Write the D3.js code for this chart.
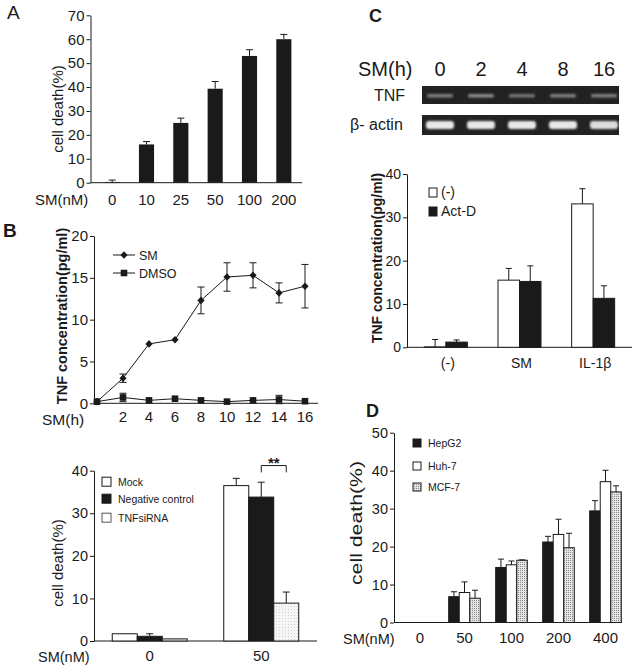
<!DOCTYPE html>
<html><head><meta charset="utf-8">
<script src="https://cdn.jsdelivr.net/npm/d3@7"></script>
<style>
body{margin:0;background:#fff}
svg{display:block;font-family:"Liberation Sans",Arial,Helvetica,sans-serif}
</style></head><body>
<svg id="fig" width="636" height="668"></svg>
<script>
// ---------- DATA ----------
// Panel A
const aCategories = ["0","10","25","50","100","200"];
const aValues = [0.3,16,25,39.3,53,60];
const aErrors = [0.8,1.2,2,3,2.6,2];
const aTicks = [0,10,20,30,40,50,60,70];

// Panel B (line)
const bHours = [0,2,4,6,8,10,12,14,16];
const bHourTicks = [2,4,6,8,10,12,14,16];
const bSM = [0.2,3.0,7.1,7.6,12.3,15.1,15.3,13.2,14.0];
const bSMErr = [0.1,0.5,0.15,0.1,1.6,1.7,1.5,1.2,2.6];
const bDMSO = [0.2,0.7,0.35,0.55,0.35,0.2,0.35,0.45,0.25];
const bDMSOErr = [0.1,0.5,0.1,0.1,0.1,0.1,0.1,0.5,0.1];
const bLineTicks = [0,5,10,15,20];

// Panel B (bars)
const bbDoses = ["0","50"];
const bbSeries = ["Mock","Negative control","TNFsiRNA"];
const bbMock = [1.7,36.5];
const bbMockErr = [0,1.7];
const bbNeg = [1.1,33.8];
const bbNegErr = [0.6,3.5];
const bbSi = [0.5,8.9];
const bbSiErr = [0,2.6];
const bbTicks = [0,10,20,30,40];

// Panel C (gel)
const cLanes = ["0","2","4","8","16"];
const cTNFBand = [0.45,0.5,0.4,0.45,0.45];
const cActinBand = [0.95,0.95,0.95,0.95,0.9];

// Panel C (bars)
const cGroups = ["(-)","SM","IL-1β"];
const cSeries = ["(-)","Act-D"];
const cNone = [0.1,15.5,33.1];
const cNoneErr = [1.7,2.7,3.5];
const cActD = [1.2,15.2,11.3];
const cActDErr = [0.5,3.6,2.9];
const cTicks = [0,10,20,30,40];

// Panel D
const dDoses = ["0","50","100","200","400"];
const dSeries = ["HepG2","Huh-7","MCF-7"];
const dHepG2 = [0,6.8,14.5,21.2,29.4];
const dHepG2Err = [0,1.3,2.2,1.5,2.7];
const dHuh7 = [0,7.9,15.2,23.2,37.1];
const dHuh7Err = [0,2.8,1.0,4.0,3.0];
const dMCF7 = [0,6.4,16.4,19.7,34.4];
const dMCF7Err = [0,2.1,0.1,3.8,1.6];
const dTicks = [0,10,20,30,40,50];

// ---------- DRAW ----------
const svg = d3.select("#fig");
const INK = "#1a1a1a";
const defs = svg.append("defs");
const pat = defs.append("pattern").attr("id","stipple").attr("width",2).attr("height",2).attr("patternUnits","userSpaceOnUse");
pat.append("rect").attr("width",2).attr("height",2).attr("fill","#e4e4e4");
pat.append("rect").attr("width",1).attr("height",1).attr("fill","#8a8a8a");
const pat2 = defs.append("pattern").attr("id","stipple2").attr("width",3).attr("height",3).attr("patternUnits","userSpaceOnUse");
pat2.append("rect").attr("width",3).attr("height",3).attr("fill","#f6f6f6");
pat2.append("rect").attr("width",1).attr("height",1).attr("fill","#d0d0d0");
const blur = defs.append("filter").attr("id","blur").attr("x","-20%").attr("y","-50%").attr("width","140%").attr("height","200%");
blur.append("feGaussianBlur").attr("stdDeviation",1.2);

function yAxis(scale, x, ticks, fs){
  const g = svg.append("g").attr("transform",`translate(${x},0)`)
    .call(d3.axisLeft(scale).tickValues(ticks).tickSize(4).tickSizeOuter(0).tickPadding(2));
  g.attr("font-family",null).attr("font-size",fs);
  g.selectAll("text").attr("fill",INK);
  g.selectAll("line,path").attr("stroke",INK);
  return g;
}
function hLine(x1,x2,y){
  svg.append("line").attr("x1",x1).attr("x2",x2).attr("y1",y).attr("y2",y).attr("stroke",INK).attr("stroke-width",1);
}
function text(t,x,y,fs,opts={}){
  const e = svg.append("text").attr("x",x).attr("y",y).attr("font-size",fs).attr("fill",INK).text(t);
  if(opts.anchor) e.attr("text-anchor",opts.anchor);
  if(opts.bold) e.attr("font-weight","bold");
  return e;
}
function vLabel(t,x,y,fs,bold,len){
  const e = svg.append("text").attr("transform",`translate(${x},${y}) rotate(-90)`)
    .attr("text-anchor","middle").attr("font-size",fs).attr("fill",INK).text(t);
  if(bold) e.attr("font-weight","bold");
  if(len) e.attr("textLength",len).attr("lengthAdjust","spacingAndGlyphs");
}
function errUp(x,yTop,yErr,cap){
  svg.append("line").attr("x1",x).attr("x2",x).attr("y1",yTop).attr("y2",yErr).attr("stroke",INK);
  svg.append("line").attr("x1",x-cap/2).attr("x2",x+cap/2).attr("y1",yErr).attr("y2",yErr).attr("stroke",INK);
}

// ===== Panel A =====
{
  const y = d3.scaleLinear().domain([0,70]).range([182.7,15.3]);
  const x = d3.scaleBand().domain(aCategories).range([95,301]).paddingInner(0.56).paddingOuter(0.28);
  yAxis(y, 90.5, aTicks, 15);
  hLine(90.5, 302, y(0));
  aCategories.forEach((c,i)=>{
    const bx = x(c), w = x.bandwidth();
    svg.append("rect").attr("x",bx).attr("y",y(aValues[i])).attr("width",w).attr("height",y(0)-y(aValues[i])).attr("fill",INK);
    errUp(bx+w/2, y(aValues[i]), y(aValues[i]+aErrors[i]), 7);
    text(c, bx+w/2, 205, 15, {anchor:"middle"});
  });
  text("SM(nM)", 35, 205, 15);
  vLabel("cell death(%)", 63, 109, 15);
  text("A", 7, 19, 19);
}

// ===== Panel B line =====
{
  const y = d3.scaleLinear().domain([0,20]).range([403.3,236]);
  const x = d3.scaleLinear().domain([0,16]).range([97,305]);
  yAxis(y, 94, bLineTicks, 15);
  hLine(94, 318, y(0));
  bHourTicks.forEach(h=> text(h, x(h), 422, 15, {anchor:"middle"}));
  text("SM(h)", 42, 425, 15.5);
  vLabel("TNF concentration(pg/ml)", 67, 316, 14.5, true);
  text("B", 3, 237, 19, {bold:true});
  const diamond = "M0,-3.8L3.6,0L0,3.8L-3.6,0Z";
  const square = "M-3.3,-3.3H3.3V3.3H-3.3Z";
  const line = d3.line().x((d,i)=>x(bHours[i])).y(d=>y(d));
  [[bSM,bSMErr,diamond],[bDMSO,bDMSOErr,square]].forEach(([vals,errs,shape])=>{
    svg.append("path").attr("d",line(vals)).attr("fill","none").attr("stroke",INK).attr("stroke-width",1);
    vals.forEach((v,i)=>{
      const cx = x(bHours[i]);
      if(errs[i]>0.15){
        svg.append("line").attr("x1",cx).attr("x2",cx).attr("y1",y(v-errs[i])).attr("y2",y(v+errs[i])).attr("stroke",INK);
        [v-errs[i],v+errs[i]].forEach(e=>svg.append("line").attr("x1",cx-3.5).attr("x2",cx+3.5).attr("y1",y(e)).attr("y2",y(e)).attr("stroke",INK));
      }
      svg.append("path").attr("d",shape).attr("transform",`translate(${cx},${y(v)})`).attr("fill",INK);
    });
  });
  // legend
  [["SM",diamond,255],["DMSO",square,273]].forEach(([t,shape,ly])=>{
    hLine(113,135,ly);
    svg.append("path").attr("d",shape).attr("transform",`translate(124,${ly})`).attr("fill",INK);
    text(t,139,ly+4.5,12.5);
  });
}

// ===== Panel B bars =====
{
  const y = d3.scaleLinear().domain([0,40]).range([641,470.7]);
  const x = d3.scaleBand().domain(bbDoses).range([94,317]);
  const xs = d3.scaleBand().domain(bbSeries).range([-37.5,37.5]);
  yAxis(y, 94, bbTicks, 14.5);
  hLine(94, 317, y(0));
  const series = [[bbMock,bbMockErr,"#fff"],[bbNeg,bbNegErr,INK],[bbSi,bbSiErr,"url(#stipple2)"]];
  bbDoses.forEach((d,i)=>{
    const c = x(d)+x.bandwidth()/2;
    series.forEach(([vals,errs,fill],k)=>{
      const bx = c + xs(bbSeries[k]);
      svg.append("rect").attr("x",bx).attr("y",y(vals[i])).attr("width",xs.bandwidth()).attr("height",y(0)-y(vals[i]))
        .attr("fill",fill).attr("stroke",INK).attr("stroke-width",1);
      if(errs[i]>0) errUp(bx+xs.bandwidth()/2, y(vals[i]), y(vals[i]+errs[i]), 7);
    });
    text(d, c, 661, 15, {anchor:"middle"});
  });
  // significance bracket
  const c50 = x("50")+x.bandwidth()/2;
  const xa = c50 + xs("Negative control") + xs.bandwidth()/2;
  const xb = c50 + xs("TNFsiRNA") + xs.bandwidth()/2;
  svg.append("path").attr("d",`M${xa},${y(39.6)}V${y(41.2)}H${xb}V${y(39.6)}`).attr("fill","none").attr("stroke",INK);
  text("**", (xa+xb)/2, 468, 15, {anchor:"middle", bold:true});
  text("SM(nM)", 38, 662, 14.5);
  vLabel("cell death(%)", 63, 563, 15);
  // legend
  const lfills = ["#fff",INK,"#fff"];
  bbSeries.forEach((s,k)=>{
    const ly = [481.7,498.7,517.7][k];
    svg.append("rect").attr("x",102).attr("y",ly-4.5).attr("width",9).attr("height",9).attr("fill",lfills[k]).attr("stroke",k===2?"#555":INK);
    text(s,118,ly+4,10.5);
  });
}

// ===== Panel C gel =====
{
  text("C", 369, 22, 18, {bold:true});
  const lx = d3.scalePoint().domain(cLanes).range([440,604]);
  text("SM(h)", 358, 76, 20);
  cLanes.forEach(l=> text(l, lx(l), 76, 20, {anchor:"middle"}));
  text("TNF", 374, 101, 16);
  text("β- actin", 350, 130, 16);
  svg.append("rect").attr("x",422).attr("y",86).attr("width",197).attr("height",18).attr("fill","#222");
  svg.append("rect").attr("x",422).attr("y",115).attr("width",197).attr("height",20).attr("fill","#222");
  const grey = d3.scaleLinear().domain([0,1]).range(["#222","#f2f2f2"]);
  cLanes.forEach((l,i)=>{
    svg.append("rect").attr("x",lx(l)-13).attr("y",94).attr("width",26).attr("height",3.5).attr("rx",1.5)
      .attr("fill",grey(cTNFBand[i])).attr("filter","url(#blur)");
    svg.append("rect").attr("x",lx(l)-14).attr("y",121).attr("width",28).attr("height",8).attr("rx",3)
      .attr("fill",grey(cActinBand[i])).attr("filter","url(#blur)");
  });
}

// ===== Panel C bars =====
{
  const y = d3.scaleLinear().domain([0,40]).range([347.3,174]);
  const x = d3.scaleBand().domain(cGroups).range([409,630]);
  const xs = d3.scaleBand().domain(cSeries).range([-21.5,21.5]);
  yAxis(y, 407, cTicks, 14);
  hLine(407, 632, y(0));
  const series = [[cNone,cNoneErr,"#fff"],[cActD,cActDErr,INK]];
  cGroups.forEach((g,i)=>{
    const c = x(g)+x.bandwidth()/2;
    series.forEach(([vals,errs,fill],k)=>{
      const bx = c + xs(cSeries[k]);
      svg.append("rect").attr("x",bx).attr("y",y(vals[i])).attr("width",xs.bandwidth()).attr("height",y(0)-y(vals[i]))
        .attr("fill",fill).attr("stroke",INK);
      errUp(bx+xs.bandwidth()/2, y(vals[i]), y(vals[i]+errs[i]), 6);
    });
    text(g, c+2, 368, 14, {anchor:"middle"});
  });
  vLabel("TNF concentration(pg/ml)", 382, 258, 14, true);
  [["(-)","#fff",192],["Act-D",INK,211]].forEach(([t,f,ly])=>{
    svg.append("rect").attr("x",429).attr("y",ly-4).attr("width",8).attr("height",9).attr("fill",f).attr("stroke",INK);
    text(t,441,ly+5,14);
  });
}

// ===== Panel D =====
{
  text("D", 366, 417, 18, {bold:true});
  const y = d3.scaleLinear().domain([0,50]).range([622.5,432.7]);
  const x = d3.scaleBand().domain(dDoses).range([394,629]);
  const xs = d3.scaleBand().domain(dSeries).range([-15.8,15.8]);
  yAxis(y, 394, dTicks, 14.5);
  hLine(394, 622, y(0));
  const series = [[dHepG2,dHepG2Err,INK],[dHuh7,dHuh7Err,"#fff"],[dMCF7,dMCF7Err,"url(#stipple)"]];
  dDoses.forEach((d,i)=>{
    const c = x(d)+x.bandwidth()/2;
    series.forEach(([vals,errs,fill],k)=>{
      if(vals[i]<=0) return;
      const bx = c + xs(dSeries[k]);
      svg.append("rect").attr("x",bx).attr("y",y(vals[i])).attr("width",xs.bandwidth()).attr("height",y(0)-y(vals[i]))
        .attr("fill",fill).attr("stroke",INK);
      errUp(bx+xs.bandwidth()/2, y(vals[i]), y(vals[i]+errs[i]), 6);
    });
    text(d, c+ (i===0?2.5:0), 643, 15, {anchor:"middle"});
  });
  text("SM(nM)", 343, 644, 14.5);
  vLabel("cell death(%)", 362, 523, 16, false, 124);
  const lf = [INK,"#fff","url(#stipple)"];
  dSeries.forEach((s,k)=>{
    const ly = [443,466,487][k];
    svg.append("rect").attr("x",413).attr("y",ly-4).attr("width",8).attr("height",8).attr("fill",lf[k]).attr("stroke",INK);
    text(s,428,ly+4,10.5);
  });
}
</script>
</body></html>
